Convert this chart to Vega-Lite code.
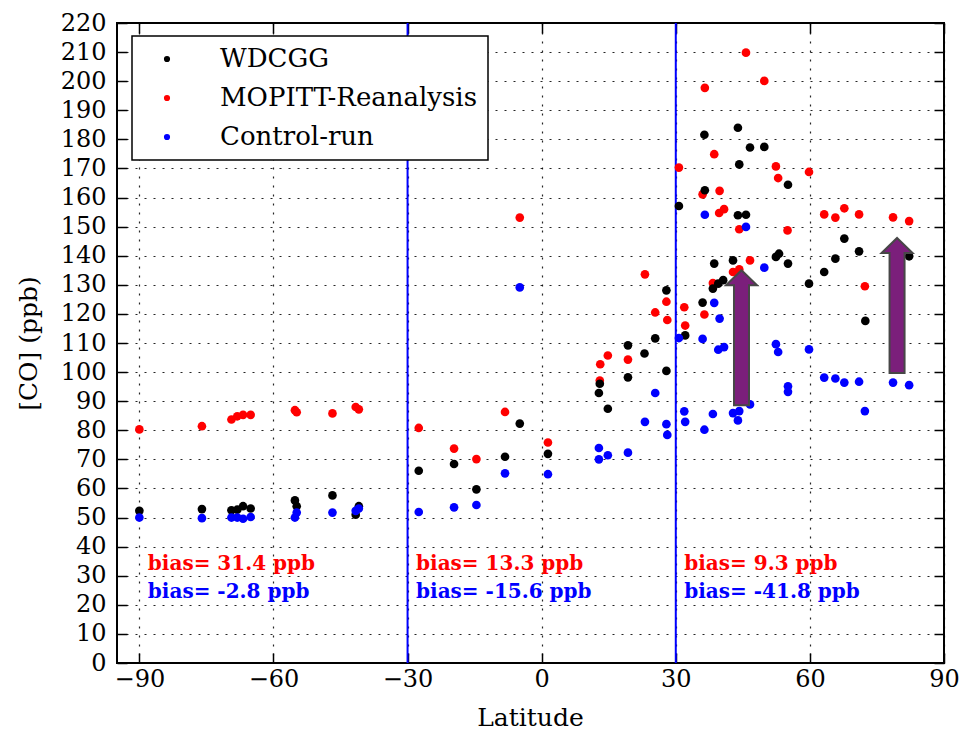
{
  "$schema": "https://vega.github.io/schema/vega-lite/v6.json",
  "width": 827,
  "height": 640,
  "autosize": {"type": "none"},
  "padding": {"left": 117, "top": 23, "right": 16, "bottom": 68},
  "background": "#ffffff",
  "config": {
    "view": {"stroke": "#000000", "strokeWidth": 2},
    "font": "DejaVu Serif",
    "legend": {
      "orient": "none",
      "legendX": 15,
      "legendY": 13,
      "labelFont": "DejaVu Serif",
      "labelFontSize": 26,
      "labelColor": "#000000",
      "labelLimit": 500,
      "symbolSize": 38,
      "symbolType": "circle",
      "symbolStrokeWidth": 0,
      "symbolOffset": 12,
      "labelOffset": 40,
      "padding": 10,
      "rowPadding": 13,
      "strokeColor": "#000000",
      "strokeWidth": 1.5,
      "fillColor": "#ffffff",
      "cornerRadius": 0
    }
  },
  "datasets": {
    "pts": [
      {"lat": -90, "co": 80.3, "series": "MOPITT-Reanalysis"},
      {"lat": -76.0, "co": 81.4, "series": "MOPITT-Reanalysis"},
      {"lat": -69.4, "co": 83.7, "series": "MOPITT-Reanalysis"},
      {"lat": -68.1, "co": 84.8, "series": "MOPITT-Reanalysis"},
      {"lat": -66.8, "co": 85.3, "series": "MOPITT-Reanalysis"},
      {"lat": -65.1, "co": 85.3, "series": "MOPITT-Reanalysis"},
      {"lat": -55.2, "co": 86.9, "series": "MOPITT-Reanalysis"},
      {"lat": -54.8, "co": 86.2, "series": "MOPITT-Reanalysis"},
      {"lat": -46.8, "co": 85.8, "series": "MOPITT-Reanalysis"},
      {"lat": -41.6, "co": 88.0, "series": "MOPITT-Reanalysis"},
      {"lat": -40.9, "co": 87.2, "series": "MOPITT-Reanalysis"},
      {"lat": -27.5, "co": 80.8, "series": "MOPITT-Reanalysis"},
      {"lat": -19.6, "co": 73.7, "series": "MOPITT-Reanalysis"},
      {"lat": -14.6, "co": 70.1, "series": "MOPITT-Reanalysis"},
      {"lat": -8.2, "co": 86.3, "series": "MOPITT-Reanalysis"},
      {"lat": -4.9, "co": 153.1, "series": "MOPITT-Reanalysis"},
      {"lat": 1.4, "co": 75.8, "series": "MOPITT-Reanalysis"},
      {"lat": 13.0, "co": 97.1, "series": "MOPITT-Reanalysis"},
      {"lat": 13.1, "co": 102.7, "series": "MOPITT-Reanalysis"},
      {"lat": 14.8, "co": 105.7, "series": "MOPITT-Reanalysis"},
      {"lat": 19.3, "co": 104.3, "series": "MOPITT-Reanalysis"},
      {"lat": 23.1, "co": 133.6, "series": "MOPITT-Reanalysis"},
      {"lat": 25.4, "co": 120.5, "series": "MOPITT-Reanalysis"},
      {"lat": 27.9, "co": 124.2, "series": "MOPITT-Reanalysis"},
      {"lat": 28.1, "co": 117.9, "series": "MOPITT-Reanalysis"},
      {"lat": 30.7, "co": 170.3, "series": "MOPITT-Reanalysis"},
      {"lat": 31.9, "co": 122.3, "series": "MOPITT-Reanalysis"},
      {"lat": 32.1, "co": 116.0, "series": "MOPITT-Reanalysis"},
      {"lat": 36.0, "co": 161.1, "series": "MOPITT-Reanalysis"},
      {"lat": 36.4, "co": 119.8, "series": "MOPITT-Reanalysis"},
      {"lat": 36.5, "co": 197.7, "series": "MOPITT-Reanalysis"},
      {"lat": 38.3, "co": 130.6, "series": "MOPITT-Reanalysis"},
      {"lat": 38.6, "co": 174.9, "series": "MOPITT-Reanalysis"},
      {"lat": 39.7, "co": 154.7, "series": "MOPITT-Reanalysis"},
      {"lat": 39.8, "co": 162.3, "series": "MOPITT-Reanalysis"},
      {"lat": 40.8, "co": 156.0, "series": "MOPITT-Reanalysis"},
      {"lat": 42.8, "co": 134.4, "series": "MOPITT-Reanalysis"},
      {"lat": 44.2, "co": 135.3, "series": "MOPITT-Reanalysis"},
      {"lat": 44.2, "co": 149.1, "series": "MOPITT-Reanalysis"},
      {"lat": 45.7, "co": 209.8, "series": "MOPITT-Reanalysis"},
      {"lat": 46.6, "co": 138.4, "series": "MOPITT-Reanalysis"},
      {"lat": 49.8, "co": 200.1, "series": "MOPITT-Reanalysis"},
      {"lat": 52.4, "co": 170.7, "series": "MOPITT-Reanalysis"},
      {"lat": 52.9, "co": 166.7, "series": "MOPITT-Reanalysis"},
      {"lat": 55.0, "co": 148.7, "series": "MOPITT-Reanalysis"},
      {"lat": 59.8, "co": 168.8, "series": "MOPITT-Reanalysis"},
      {"lat": 63.2, "co": 154.2, "series": "MOPITT-Reanalysis"},
      {"lat": 65.7, "co": 153.1, "series": "MOPITT-Reanalysis"},
      {"lat": 67.7, "co": 156.3, "series": "MOPITT-Reanalysis"},
      {"lat": 71.0, "co": 154.2, "series": "MOPITT-Reanalysis"},
      {"lat": 72.3, "co": 129.5, "series": "MOPITT-Reanalysis"},
      {"lat": 78.6, "co": 153.2, "series": "MOPITT-Reanalysis"},
      {"lat": 82.2, "co": 151.9, "series": "MOPITT-Reanalysis"},

      {"lat": -90, "co": 52.3, "series": "WDCGG"},
      {"lat": -76.0, "co": 52.9, "series": "WDCGG"},
      {"lat": -69.4, "co": 52.5, "series": "WDCGG"},
      {"lat": -68.1, "co": 52.7, "series": "WDCGG"},
      {"lat": -66.8, "co": 53.9, "series": "WDCGG"},
      {"lat": -65.1, "co": 53.1, "series": "WDCGG"},
      {"lat": -55.2, "co": 55.9, "series": "WDCGG"},
      {"lat": -54.8, "co": 53.9, "series": "WDCGG"},
      {"lat": -46.8, "co": 57.6, "series": "WDCGG"},
      {"lat": -41.6, "co": 51.0, "series": "WDCGG"},
      {"lat": -40.9, "co": 53.9, "series": "WDCGG"},
      {"lat": -27.5, "co": 66.1, "series": "WDCGG"},
      {"lat": -19.6, "co": 68.4, "series": "WDCGG"},
      {"lat": -14.6, "co": 59.7, "series": "WDCGG"},
      {"lat": -8.2, "co": 70.9, "series": "WDCGG"},
      {"lat": -4.9, "co": 82.3, "series": "WDCGG"},
      {"lat": 1.4, "co": 71.9, "series": "WDCGG"},
      {"lat": 13.0, "co": 96.0, "series": "WDCGG"},
      {"lat": 12.8, "co": 92.8, "series": "WDCGG"},
      {"lat": 14.8, "co": 87.4, "series": "WDCGG"},
      {"lat": 19.3, "co": 109.2, "series": "WDCGG"},
      {"lat": 19.3, "co": 98.2, "series": "WDCGG"},
      {"lat": 23.0, "co": 106.4, "series": "WDCGG"},
      {"lat": 25.4, "co": 111.6, "series": "WDCGG"},
      {"lat": 27.9, "co": 128.1, "series": "WDCGG"},
      {"lat": 27.9, "co": 100.4, "series": "WDCGG"},
      {"lat": 30.7, "co": 157.1, "series": "WDCGG"},
      {"lat": 32.1, "co": 112.6, "series": "WDCGG"},
      {"lat": 36.0, "co": 123.9, "series": "WDCGG"},
      {"lat": 36.4, "co": 181.6, "series": "WDCGG"},
      {"lat": 36.5, "co": 162.5, "series": "WDCGG"},
      {"lat": 38.3, "co": 128.7, "series": "WDCGG"},
      {"lat": 38.6, "co": 137.3, "series": "WDCGG"},
      {"lat": 39.5, "co": 130.4, "series": "WDCGG"},
      {"lat": 40.6, "co": 131.6, "series": "WDCGG"},
      {"lat": 42.8, "co": 138.4, "series": "WDCGG"},
      {"lat": 43.9, "co": 184.0, "series": "WDCGG"},
      {"lat": 44.2, "co": 171.4, "series": "WDCGG"},
      {"lat": 43.9, "co": 153.9, "series": "WDCGG"},
      {"lat": 45.7, "co": 154.1, "series": "WDCGG"},
      {"lat": 46.6, "co": 177.2, "series": "WDCGG"},
      {"lat": 49.8, "co": 177.4, "series": "WDCGG"},
      {"lat": 52.4, "co": 139.6, "series": "WDCGG"},
      {"lat": 53.1, "co": 140.7, "series": "WDCGG"},
      {"lat": 55.1, "co": 164.4, "series": "WDCGG"},
      {"lat": 55.1, "co": 137.3, "series": "WDCGG"},
      {"lat": 59.8, "co": 130.4, "series": "WDCGG"},
      {"lat": 63.2, "co": 134.4, "series": "WDCGG"},
      {"lat": 65.7, "co": 139.0, "series": "WDCGG"},
      {"lat": 67.7, "co": 145.9, "series": "WDCGG"},
      {"lat": 71.0, "co": 141.5, "series": "WDCGG"},
      {"lat": 72.4, "co": 117.6, "series": "WDCGG"},
      {"lat": 82.2, "co": 139.8, "series": "WDCGG"},

      {"lat": -90, "co": 50.0, "series": "Control-run"},
      {"lat": -76.0, "co": 49.8, "series": "Control-run"},
      {"lat": -69.4, "co": 50.0, "series": "Control-run"},
      {"lat": -68.1, "co": 50.0, "series": "Control-run"},
      {"lat": -66.8, "co": 49.6, "series": "Control-run"},
      {"lat": -65.1, "co": 50.2, "series": "Control-run"},
      {"lat": -55.2, "co": 50.0, "series": "Control-run"},
      {"lat": -54.8, "co": 51.7, "series": "Control-run"},
      {"lat": -46.8, "co": 51.7, "series": "Control-run"},
      {"lat": -41.6, "co": 52.3, "series": "Control-run"},
      {"lat": -40.9, "co": 53.1, "series": "Control-run"},
      {"lat": -27.5, "co": 51.9, "series": "Control-run"},
      {"lat": -19.6, "co": 53.5, "series": "Control-run"},
      {"lat": -14.6, "co": 54.3, "series": "Control-run"},
      {"lat": -8.2, "co": 65.2, "series": "Control-run"},
      {"lat": -4.9, "co": 129.1, "series": "Control-run"},
      {"lat": 1.4, "co": 64.9, "series": "Control-run"},
      {"lat": 12.8, "co": 73.9, "series": "Control-run"},
      {"lat": 12.8, "co": 70.0, "series": "Control-run"},
      {"lat": 14.8, "co": 71.4, "series": "Control-run"},
      {"lat": 19.3, "co": 72.3, "series": "Control-run"},
      {"lat": 23.1, "co": 82.9, "series": "Control-run"},
      {"lat": 25.4, "co": 92.8, "series": "Control-run"},
      {"lat": 27.9, "co": 82.1, "series": "Control-run"},
      {"lat": 28.1, "co": 78.4, "series": "Control-run"},
      {"lat": 30.7, "co": 111.7, "series": "Control-run"},
      {"lat": 31.9, "co": 86.5, "series": "Control-run"},
      {"lat": 32.1, "co": 82.9, "series": "Control-run"},
      {"lat": 36.0, "co": 111.4, "series": "Control-run"},
      {"lat": 36.4, "co": 80.2, "series": "Control-run"},
      {"lat": 36.5, "co": 154.1, "series": "Control-run"},
      {"lat": 38.3, "co": 85.6, "series": "Control-run"},
      {"lat": 38.6, "co": 123.8, "series": "Control-run"},
      {"lat": 39.5, "co": 107.7, "series": "Control-run"},
      {"lat": 39.8, "co": 118.4, "series": "Control-run"},
      {"lat": 40.8, "co": 108.6, "series": "Control-run"},
      {"lat": 42.8, "co": 85.9, "series": "Control-run"},
      {"lat": 44.2, "co": 86.6, "series": "Control-run"},
      {"lat": 43.9, "co": 83.4, "series": "Control-run"},
      {"lat": 45.7, "co": 149.9, "series": "Control-run"},
      {"lat": 46.6, "co": 88.9, "series": "Control-run"},
      {"lat": 49.8, "co": 135.9, "series": "Control-run"},
      {"lat": 52.4, "co": 109.6, "series": "Control-run"},
      {"lat": 52.9, "co": 106.9, "series": "Control-run"},
      {"lat": 55.1, "co": 95.1, "series": "Control-run"},
      {"lat": 55.1, "co": 93.2, "series": "Control-run"},
      {"lat": 59.8, "co": 107.8, "series": "Control-run"},
      {"lat": 63.2, "co": 98.1, "series": "Control-run"},
      {"lat": 65.7, "co": 97.8, "series": "Control-run"},
      {"lat": 67.7, "co": 96.4, "series": "Control-run"},
      {"lat": 71.0, "co": 96.7, "series": "Control-run"},
      {"lat": 72.3, "co": 86.6, "series": "Control-run"},
      {"lat": 78.6, "co": 96.4, "series": "Control-run"},
      {"lat": 82.2, "co": 95.5, "series": "Control-run"}
    ],
    "bounds": [{"lat": -30}, {"lat": 30}],
    "bias": [
      {"lat": -88.1, "co": 31.9, "label": "bias= 31.4 ppb", "series": "MOPITT-Reanalysis"},
      {"lat": -88.1, "co": 22.2, "label": "bias= -2.8 ppb", "series": "Control-run"},
      {"lat": -28.1, "co": 31.9, "label": "bias= 13.3 ppb", "series": "MOPITT-Reanalysis"},
      {"lat": -28.1, "co": 22.2, "label": "bias= -15.6 ppb", "series": "Control-run"},
      {"lat": 31.9, "co": 31.9, "label": "bias= 9.3 ppb", "series": "MOPITT-Reanalysis"},
      {"lat": 31.9, "co": 22.2, "label": "bias= -41.8 ppb", "series": "Control-run"}
    ],
    "arrows": [
      {"lat": 44.7, "co": 111.8},
      {"lat": 79.5, "co": 122.9}
    ]
  },
  "resolve": {"axis": {"x": "independent", "y": "independent"}},
  "layer": [
    {
      "data": {"name": "bounds"},
      "mark": {"type": "rule", "color": "#0000ff", "strokeWidth": 2},
      "encoding": {
        "x": {
          "field": "lat", "type": "quantitative",
          "scale": {"domain": [-95, 90], "nice": false, "zero": false},
          "axis": {"orient": "top", "values": [-90, -60, -30, 0, 30, 60, 90], "labels": false, "grid": false, "domain": false, "ticks": true, "tickSize": -10, "tickWidth": 1.5, "tickColor": "#000000", "title": null}
        }
      }
    },
    {
      "data": {"name": "bounds"},
      "mark": {"type": "rule", "opacity": 0},
      "encoding": {
        "y": {
          "field": "lat", "type": "quantitative",
          "scale": {"domain": [0, 220], "nice": false, "zero": false},
          "axis": {"orient": "right", "values": [0, 10, 20, 30, 40, 50, 60, 70, 80, 90, 100, 110, 120, 130, 140, 150, 160, 170, 180, 190, 200, 210, 220], "labels": false, "grid": false, "domain": false, "ticks": true, "tickSize": -10, "tickWidth": 1.5, "tickColor": "#000000", "title": null}
        }
      }
    },
    {
      "data": {"name": "pts"},
      "mark": {"type": "point", "filled": true, "shape": "circle", "size": 75, "opacity": 1, "strokeWidth": 0},
      "encoding": {
        "x": {
          "field": "lat", "type": "quantitative",
          "scale": {"domain": [-95, 90], "nice": false, "zero": false},
          "axis": {
            "orient": "bottom",
            "values": [-90, -60, -30, 0, 30, 60, 90],
            "grid": true, "gridDash": [2, 7], "gridColor": "#000000", "gridOpacity": 0.85, "gridWidth": 1.2,
            "domain": false, "ticks": true, "tickSize": -10, "tickWidth": 1.5, "tickColor": "#000000",
            "labelFont": "DejaVu Serif", "labelFontSize": 24, "labelColor": "#000000", "labelPadding": 14,
            "labelFlush": false, "labelOverlap": false,
            "title": "Latitude", "titleFont": "DejaVu Serif", "titleFontSize": 25, "titleFontWeight": "normal", "titleColor": "#000000",
            "titleX": 413, "titleY": 54, "titleBaseline": "middle", "titleAlign": "center"
          }
        },
        "y": {
          "field": "co", "type": "quantitative",
          "scale": {"domain": [0, 220], "nice": false, "zero": false},
          "axis": {
            "orient": "left",
            "values": [0, 10, 20, 30, 40, 50, 60, 70, 80, 90, 100, 110, 120, 130, 140, 150, 160, 170, 180, 190, 200, 210, 220],
            "grid": true, "gridDash": [2, 7], "gridColor": "#000000", "gridOpacity": 0.85, "gridWidth": 1.2,
            "domain": false, "ticks": true, "tickSize": -10, "tickWidth": 1.5, "tickColor": "#000000",
            "labelFont": "DejaVu Serif", "labelFontSize": 24, "labelColor": "#000000", "labelPadding": 21,
            "labelFlush": false, "labelOverlap": false,
            "title": "[CO] (ppb)", "titleFont": "DejaVu Serif", "titleFontSize": 25, "titleFontWeight": "normal", "titleColor": "#000000",
            "titleX": -89, "titleY": 320, "titleBaseline": "middle", "titleAlign": "center", "titleAngle": -90
          }
        },
        "color": {
          "field": "series", "type": "nominal",
          "scale": {"domain": ["WDCGG", "MOPITT-Reanalysis", "Control-run"], "range": ["#000000", "#ff0000", "#0000ff"]},
          "legend": {"title": null}
        }
      }
    },
    {
      "data": {"name": "bias"},
      "transform": [{"filter": "datum.series === 'MOPITT-Reanalysis'"}],
      "mark": {"type": "text", "align": "left", "baseline": "alphabetic", "font": "DejaVu Serif", "fontWeight": "bold", "fontSize": 20, "color": "#ff0000"},
      "encoding": {
        "x": {"field": "lat", "type": "quantitative", "axis": null},
        "y": {"field": "co", "type": "quantitative", "axis": null},
        "text": {"field": "label"}
      }
    },
    {
      "data": {"name": "bias"},
      "transform": [{"filter": "datum.series === 'Control-run'"}],
      "mark": {"type": "text", "align": "left", "baseline": "alphabetic", "font": "DejaVu Serif", "fontWeight": "bold", "fontSize": 20, "color": "#0000ff"},
      "encoding": {
        "x": {"field": "lat", "type": "quantitative", "axis": null},
        "y": {"field": "co", "type": "quantitative", "axis": null},
        "text": {"field": "label"}
      }
    },
    {
      "data": {"name": "arrows"},
      "mark": {
        "type": "point",
        "shape": "M0,-4.355L1,-3.387L0.484,-3.387L0.484,4.355L-0.484,4.355L-0.484,-3.387L-1,-3.387Z",
        "size": 961,
        "filled": true,
        "fill": "#7b1f7b",
        "stroke": "#474747",
        "strokeWidth": 2,
        "opacity": 1,
        "fillOpacity": 1,
        "strokeOpacity": 1
      },
      "encoding": {
        "x": {"field": "lat", "type": "quantitative", "axis": null},
        "y": {"field": "co", "type": "quantitative", "axis": null}
      }
    }
  ]
}
